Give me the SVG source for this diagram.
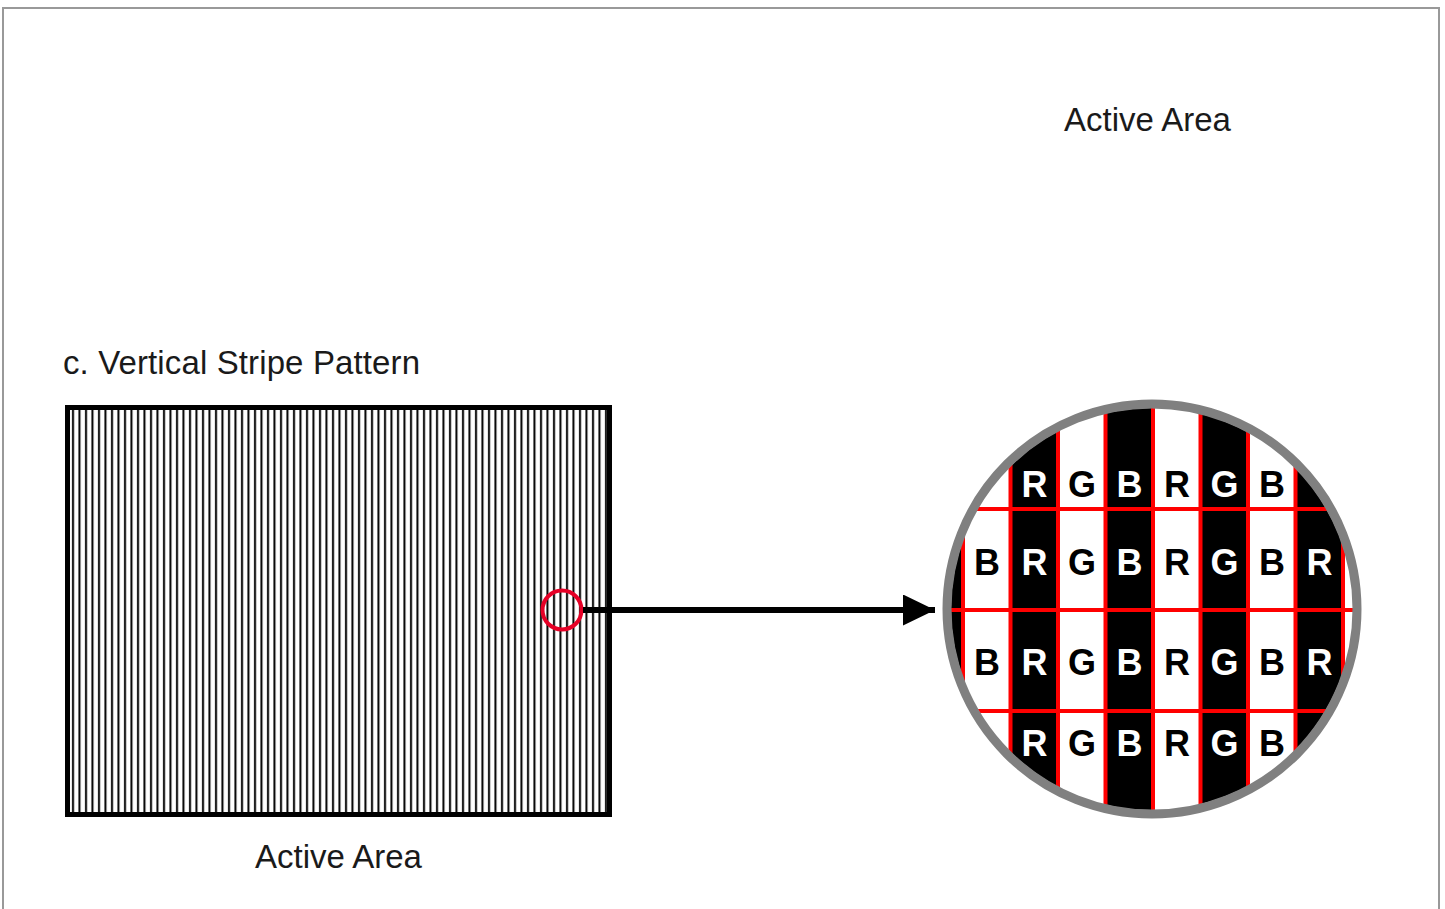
<svg xmlns="http://www.w3.org/2000/svg" width="1445" height="909" viewBox="0 0 1445 909">
<style>
.lbl{font-family:"Liberation Sans",Arial,sans-serif;font-size:33px;fill:#1a1a1a}
.ltr{font-family:"Liberation Sans",Arial,sans-serif;font-size:36px;font-weight:bold;text-anchor:middle}
.w{fill:#ffffff}
.k{fill:#000000}
.red{stroke:#ff0000;stroke-width:4;fill:none}
</style>
<defs>
<pattern id="stripes" x="70" y="0" width="6.5" height="10" patternUnits="userSpaceOnUse">
<rect x="2" y="0" width="2" height="10" fill="#000"/>
</pattern>
<clipPath id="lens"><circle cx="1152" cy="609" r="201"/></clipPath>
<marker id="ah" viewBox="0 0 32 31" refX="32" refY="15.5" markerWidth="32" markerHeight="31" markerUnits="userSpaceOnUse" orient="auto">
<path d="M0,0 L32,15.5 L0,31 Z" fill="#000"/>
</marker>
</defs>
<rect x="0" y="0" width="1445" height="909" fill="#fff"/>
<rect id="frame" x="3" y="8" width="1436" height="1000" fill="none" stroke="#999" stroke-width="2"/>

<g id="title"><text class="lbl" x="63" y="374" textLength="357" lengthAdjust="spacing">c. Vertical Stripe Pattern</text></g>

<g id="stripe-panel">
<rect x="67.5" y="407.5" width="542" height="407" fill="url(#stripes)" stroke="#000" stroke-width="5"/>
</g>
<g id="label-bottom"><text class="lbl" x="338.5" y="868" text-anchor="middle">Active Area</text></g>
<g id="label-top"><text class="lbl" x="1147.5" y="131" text-anchor="middle">Active Area</text></g>

<g id="zoom-spot"><circle cx="562" cy="610" r="19.5" fill="none" stroke="#e60026" stroke-width="4"/></g>

<g id="connectors">
<line x1="583" y1="610" x2="935" y2="610" stroke="#000" stroke-width="6" marker-end="url(#ah)"/>
</g>

<g id="magnifier">
<circle cx="1152" cy="609" r="205" fill="#fff"/>
<g clip-path="url(#lens)">
<rect x="915.5" y="380" width="47.5" height="460" fill="#000"/>
<rect x="1010.5" y="380" width="47.5" height="460" fill="#000"/>
<rect x="1105.5" y="380" width="47.5" height="460" fill="#000"/>
<rect x="1200.5" y="380" width="47.5" height="460" fill="#000"/>
<rect x="1295.5" y="380" width="47.5" height="460" fill="#000"/>
<g class="red">
<line x1="963" y1="380" x2="963" y2="840"/>
<line x1="1010.5" y1="380" x2="1010.5" y2="840"/>
<line x1="1058" y1="380" x2="1058" y2="840"/>
<line x1="1105.5" y1="380" x2="1105.5" y2="840"/>
<line x1="1153" y1="380" x2="1153" y2="840"/>
<line x1="1200.5" y1="380" x2="1200.5" y2="840"/>
<line x1="1248" y1="380" x2="1248" y2="840"/>
<line x1="1295.5" y1="380" x2="1295.5" y2="840"/>
<line x1="1343" y1="380" x2="1343" y2="840"/>
<line x1="930" y1="509" x2="1380" y2="509"/>
<line x1="930" y1="610" x2="1380" y2="610"/>
<line x1="930" y1="711" x2="1380" y2="711"/>
</g>
</g>
<circle cx="1152" cy="609" r="205" fill="none" stroke="#808080" stroke-width="9"/>
<g class="ltr">
<text class="w" x="1034.5" y="497">R</text>
<text class="k" x="1082" y="497">G</text>
<text class="w" x="1129.5" y="497">B</text>
<text class="k" x="1177" y="497">R</text>
<text class="w" x="1224.5" y="497">G</text>
<text class="k" x="1272" y="497">B</text>

<text class="k" x="987" y="575">B</text>
<text class="w" x="1034.5" y="575">R</text>
<text class="k" x="1082" y="575">G</text>
<text class="w" x="1129.5" y="575">B</text>
<text class="k" x="1177" y="575">R</text>
<text class="w" x="1224.5" y="575">G</text>
<text class="k" x="1272" y="575">B</text>
<text class="w" x="1319.5" y="575">R</text>

<text class="k" x="987" y="675">B</text>
<text class="w" x="1034.5" y="675">R</text>
<text class="k" x="1082" y="675">G</text>
<text class="w" x="1129.5" y="675">B</text>
<text class="k" x="1177" y="675">R</text>
<text class="w" x="1224.5" y="675">G</text>
<text class="k" x="1272" y="675">B</text>
<text class="w" x="1319.5" y="675">R</text>

<text class="w" x="1034.5" y="756">R</text>
<text class="k" x="1082" y="756">G</text>
<text class="w" x="1129.5" y="756">B</text>
<text class="k" x="1177" y="756">R</text>
<text class="w" x="1224.5" y="756">G</text>
<text class="k" x="1272" y="756">B</text>
</g>
</g>
</svg>
